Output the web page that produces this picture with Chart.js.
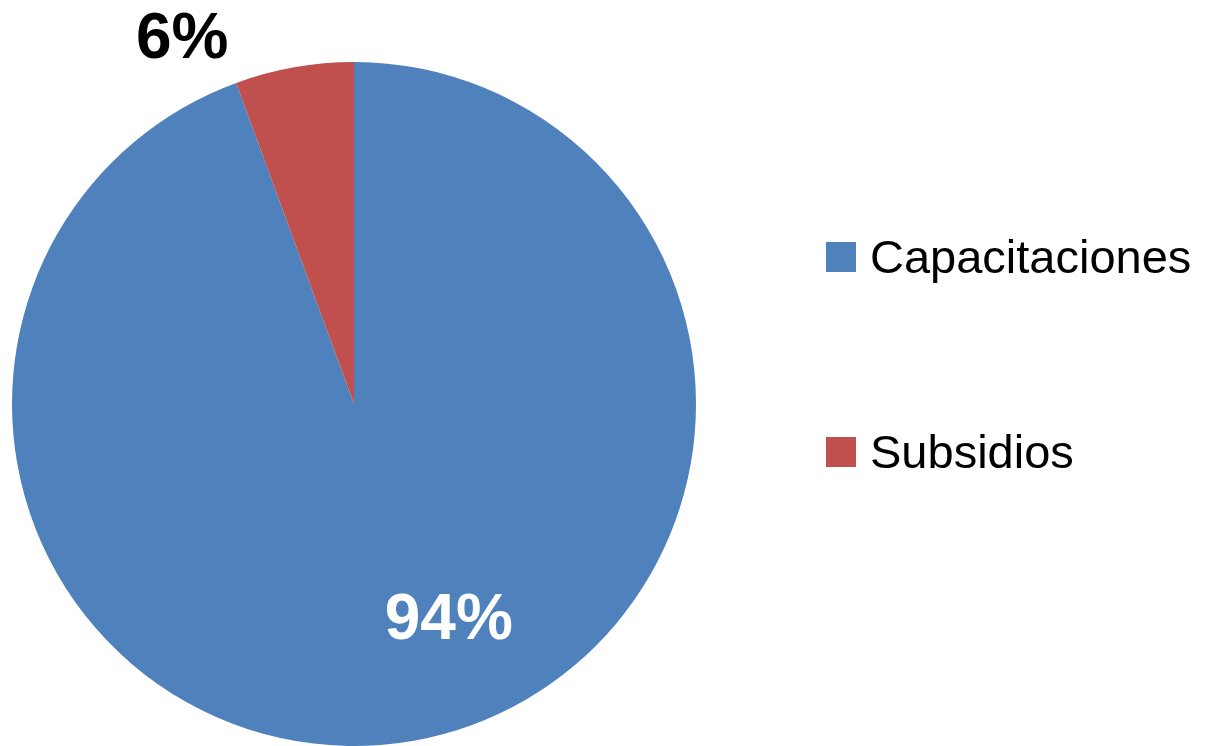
<!DOCTYPE html>
<html>
<head>
<meta charset="utf-8">
<style>
  html,body{margin:0;padding:0;background:#fff;}
  #wrap{width:1211px;height:746px;position:relative;}
</style>
<script src="https://cdn.jsdelivr.net/npm/chart.js@4.4.1/dist/chart.umd.min.js"></script>
</head>
<body>
<div id="wrap"><canvas id="c" width="1211" height="746"></canvas></div>
<script>
const categories = ["Capacitaciones", "Subsidios"];
const values = [94.4, 5.6];
const sliceColors = ["#4F81BD", "#C0504D"];
const percentLabels = ["94%", "6%"];
const labelColors = ["#FFFFFF", "#000000"];

// label placement (angle in degrees from +x axis, distance as fraction of radius)
const labelPlacement = [
  {angle: 66.2, dist: 0.687},
  {angle: -115.2, dist: 1.18}
];

const overlayPlugin = {
  id: 'overlay',
  afterDatasetsDraw(chart) {
    const ctx = chart.ctx;
    const arc = chart.getDatasetMeta(0).data[0];
    const cx = arc.x, cy = arc.y, r = arc.outerRadius;
    ctx.save();
    ctx.font = 'bold 64px "Liberation Sans", Arial, sans-serif';
    ctx.textAlign = 'center';
    ctx.textBaseline = 'middle';
    percentLabels.forEach((t, i) => {
      const p = labelPlacement[i];
      const a = p.angle * Math.PI / 180;
      ctx.fillStyle = labelColors[i];
      ctx.fillText(t, cx + Math.cos(a) * r * p.dist, cy + Math.sin(a) * r * p.dist + 2);
    });
    // legend
    const legendX = 826, legendYs = [257, 452], box = 30;
    ctx.font = '47px "Liberation Sans", Arial, sans-serif';
    ctx.textAlign = 'left';
    ctx.textBaseline = 'alphabetic';
    categories.forEach((name, i) => {
      ctx.fillStyle = sliceColors[i];
      ctx.fillRect(legendX, legendYs[i] - box / 2, box, box);
      ctx.fillStyle = '#000000';
      ctx.fillText(name, legendX + 44, legendYs[i] + 16);
    });
    ctx.restore();
  }
};

new Chart(document.getElementById('c'), {
  type: 'pie',
  data: {
    labels: categories,
    datasets: [{
      data: values,
      backgroundColor: sliceColors,
      borderWidth: 0
    }]
  },
  options: {
    responsive: false,
    animation: false,
    layout: { padding: { left: 12, top: 62, bottom: 0, right: 515 } },
    plugins: {
      legend: { display: false },
      tooltip: { enabled: false },
      title: { display: false }
    }
  },
  plugins: [overlayPlugin]
});
</script>
</body>
</html>
